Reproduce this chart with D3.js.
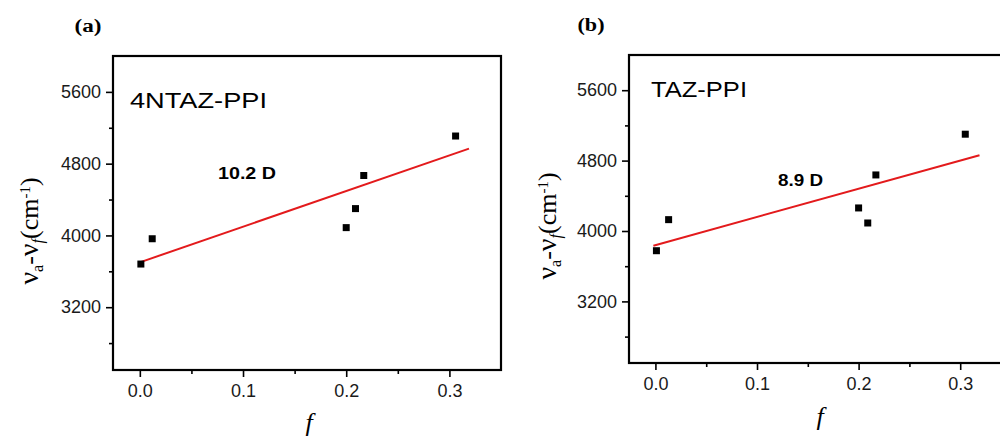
<!DOCTYPE html>
<html><head><meta charset="utf-8">
<script src="https://cdn.jsdelivr.net/npm/d3@7"></script>
<style>html,body{margin:0;padding:0;background:#fff;overflow:hidden}</style>
</head><body>
<svg id="chart" width="1000" height="437"></svg>
<script>
// ---- data ----
const panelLetters = ["(a)", "(b)"];
const panelNames = ["4NTAZ-PPI", "TAZ-PPI"];
const dipoleLabels = ["10.2 D", "8.9 D"];
const fA = [0.001, 0.012, 0.200, 0.209, 0.217, 0.306];
const shiftA = [3681, 3963, 4087, 4299, 4668, 5108];
const fB = [0.001, 0.013, 0.200, 0.209, 0.217, 0.305];
const shiftB = [3776, 4129, 4262, 4091, 4637, 5100];
const fitFA = [0, 0.319];
const fitVA = [3700, 4967];
const fitFB = [-0.002, 0.319];
const fitVB = [3833, 4861];
const xMajorTicks = [0.0, 0.1, 0.2, 0.3];
const xMinorTicks = [0.05, 0.15, 0.25];
const yMajorTicks = [3200, 4000, 4800, 5600];
const yMinorTicks = [2800, 3600, 4400, 5200];
const xDomain = [-0.026, 0.35];
const yDomain = [2500, 6000];

// ---- layout ----
const panels = [
  {f: fA, v: shiftA, fitF: fitFA, fitV: fitVA, left: 113, right: 501, top: 56, bottom: 370,
   letterX: 88, letterY: 32, nameX: 130, nameY: 108, nameW: 137, dipX: 218, dipY: 179, dipW: 58, dipFs: 16,
   ylabX: 38, ylabY: 231, xlabX: 309, xlabY: 431},
  {f: fB, v: shiftB, fitF: fitFB, fitV: fitVB, left: 629, right: 1011, top: 55, bottom: 363,
   letterX: 591, letterY: 31, nameX: 651, nameY: 97, nameW: 96, dipX: 778, dipY: 186, dipW: 45, dipFs: 17,
   ylabX: 556, ylabY: 226, xlabX: 820, xlabY: 425}
];

const svg = d3.select("#chart");
const sans = "Arial, 'Liberation Sans', sans-serif";
const serif = "'Liberation Serif', 'Times New Roman', serif";

panels.forEach((p, i) => {
  const x = d3.scaleLinear().domain(xDomain).range([p.left, p.right]);
  const y = d3.scaleLinear().domain(yDomain).range([p.bottom, p.top]);
  const g = svg.append("g");

  // minor ticks
  g.append("g").attr("transform", `translate(0,${p.bottom})`)
    .call(d3.axisBottom(x).tickValues(xMinorTicks).tickSize(4).tickFormat(""))
    .call(a => a.select(".domain").remove())
    .call(a => a.selectAll("line").attr("stroke", "#000").attr("stroke-width", 1.6));
  g.append("g").attr("transform", `translate(${p.left},0)`)
    .call(d3.axisLeft(y).tickValues(yMinorTicks).tickSize(4).tickFormat(""))
    .call(a => a.select(".domain").remove())
    .call(a => a.selectAll("line").attr("stroke", "#000").attr("stroke-width", 1.6));

  // major ticks
  g.append("g").attr("transform", `translate(0,${p.bottom})`)
    .call(d3.axisBottom(x).tickValues(xMajorTicks).tickSize(7).tickPadding(7).tickFormat(d3.format(".1f")))
    .call(a => a.select(".domain").remove())
    .call(a => a.selectAll("line").attr("stroke", "#000").attr("stroke-width", 1.6))
    .call(a => a.selectAll("text").attr("fill", "#1a1a1a").style("font-family", sans).style("font-size", "18px"));
  g.append("g").attr("transform", `translate(${p.left},0)`)
    .call(d3.axisLeft(y).tickValues(yMajorTicks).tickSize(7).tickPadding(5).tickFormat(d3.format("d")))
    .call(a => a.select(".domain").remove())
    .call(a => a.selectAll("line").attr("stroke", "#000").attr("stroke-width", 1.6))
    .call(a => a.selectAll("text").attr("fill", "#1a1a1a").style("font-family", sans).style("font-size", "18px"));

  // frame
  g.append("rect").attr("x", p.left).attr("y", p.top)
    .attr("width", p.right - p.left).attr("height", p.bottom - p.top)
    .attr("fill", "none").attr("stroke", "#000").attr("stroke-width", 2.2);

  // fit line
  const lineData = p.fitF.map((f, k) => [f, p.fitV[k]]);
  g.append("path").datum(lineData)
    .attr("d", d3.line().x(d => x(d[0])).y(d => y(d[1])))
    .attr("stroke", "#e31a1c").attr("stroke-width", 2).attr("fill", "none");

  // points
  const s = 7;
  g.selectAll("rect.pt").data(p.f.map((f, k) => [f, p.v[k]])).enter()
    .append("rect").attr("class", "pt")
    .attr("x", d => x(d[0]) - s / 2).attr("y", d => y(d[1]) - s / 2)
    .attr("width", s).attr("height", s).attr("fill", "#000");

  // texts
  g.append("text").attr("x", p.letterX).attr("y", p.letterY)
    .attr("text-anchor", "middle")
    .attr("textLength", 27).attr("lengthAdjust", "spacingAndGlyphs")
    .style("font-family", serif).style("font-weight", "bold").style("font-size", "18px")
    .text(panelLetters[i]);
  g.append("text").attr("x", p.nameX).attr("y", p.nameY)
    .attr("textLength", p.nameW).attr("lengthAdjust", "spacingAndGlyphs")
    .style("font-family", sans).style("font-size", "22px")
    .text(panelNames[i]);
  g.append("text").attr("x", p.dipX).attr("y", p.dipY)
    .attr("textLength", p.dipW).attr("lengthAdjust", "spacingAndGlyphs")
    .style("font-family", sans).style("font-weight", "bold").style("font-size", p.dipFs + "px")
    .text(dipoleLabels[i]);

  // x label
  g.append("text").attr("x", p.xlabX).attr("y", p.xlabY)
    .attr("text-anchor", "middle")
    .style("font-family", serif).style("font-style", "italic").style("font-size", "26px")
    .text("f");

  // y label
  const yl = g.append("text")
    .attr("transform", `translate(${p.ylabX},${p.ylabY}) rotate(-90)`)
    .attr("text-anchor", "middle")
    .style("font-family", serif).style("font-size", "26px");
  yl.append("tspan").style("font-size", "28px").text("\u03BD");
  yl.append("tspan").attr("baseline-shift", "-30%").style("font-size", "16px").text("a");
  yl.append("tspan").text("-");
  yl.append("tspan").style("font-size", "28px").text("\u03BD");
  yl.append("tspan").attr("baseline-shift", "-30%").style("font-size", "16px").style("font-style", "italic").text("f");
  yl.append("tspan").text("(cm");
  yl.append("tspan").attr("baseline-shift", "super").style("font-size", "15px").text("-1");
  yl.append("tspan").text(")");
});
</script>
</body></html>
